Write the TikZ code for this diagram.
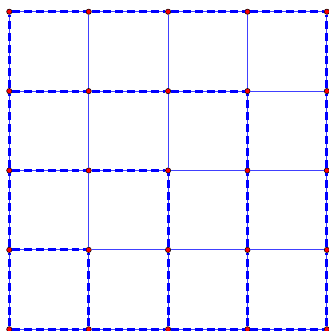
\documentclass[tikz,border=0pt]{standalone}
\usepackage{tikz}
\usetikzlibrary{positioning, calc}
\definecolor{AzulLinea}{RGB}{0,0,255}
\definecolor{RojoPunto}{RGB}{255,0,0}

\tikzset{
  vertice/.style={circle,draw=black,line width=0.4pt,fill=RojoPunto,inner sep=0pt,minimum size=3.8pt},
  arista/.style={AzulLinea!75,line width=0.7pt},
  camino/.style={AzulLinea,line width=2.2pt,dash pattern=on 5.7pt off 2.8pt}
}

\begin{document}
\begin{tikzpicture}
      \useasboundingbox (-0.234,-0.043) rectangle (8.053,8.295);
      % vertices of the grid
      \foreach \i in {0,...,4}{
        \foreach \r in {0,...,4}{
          \node[vertice] (v-\i-\r) at (2*\i, 2*\r) {};
        }
      }
      % thin grid edges
      \foreach \r in {0,...,4}{
        \foreach \i [evaluate=\i as \j using int(\i-1)] in {1,...,4}{
          \draw[arista] (v-\j-\r) -- (v-\i-\r);
          \draw[arista] (v-\r-\j) -- (v-\r-\i);
        }
      }
      % dashed staircase
      \foreach \i [evaluate=\i as \j using int(\i-1)] in {1,...,4}{
        \draw[camino] (v-0-\j) -- (v-0-\i);
        \draw[camino] (v-\j-0) -- (v-\i-0);
      }
      \foreach \k in {1,...,4}{
        \foreach \i [evaluate=\i as \j using int(\i-1)] in {1,...,\k}{
          \draw[camino] (v-\j-\k) -- (v-\i-\k);
          \draw[camino] (v-\k-\j) -- (v-\k-\i);
        }
      }
    \end{tikzpicture}
\end{document}
